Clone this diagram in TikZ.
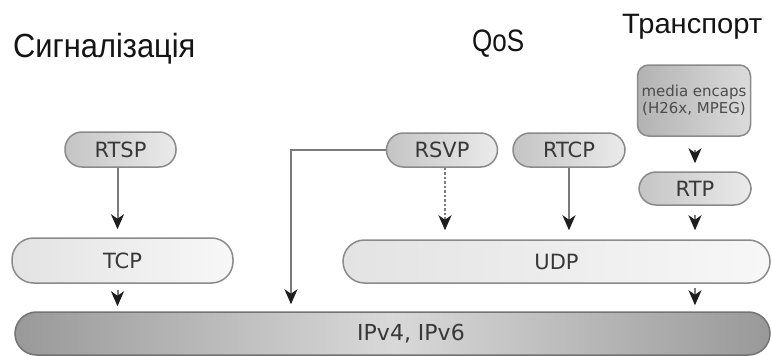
\documentclass[tikz,border=0pt]{standalone}
\usepackage{fontspec}
\newfontfamily\boxfont{DejaVu Sans}
\newfontfamily\titlefont{Liberation Sans}
\usetikzlibrary{arrows.meta}
\definecolor{linegray}{HTML}{7A7A7A}
\definecolor{bordergray}{HTML}{8A8A8A}
\definecolor{txtgray}{HTML}{383838}
\definecolor{headgray}{HTML}{1E1E1E}
\tikzset{
  pill/.style={draw=bordergray, line width=1.5pt, rounded corners=17pt,
    left color=black!23, right color=black!8, text=txtgray,
    font=\boxfont\fontsize{21}{24}\selectfont, inner sep=0pt},
  widepill/.style={draw=bordergray, line width=1.5pt, rounded corners=21.5pt,
    left color=black!11, right color=black!3, text=txtgray,
    font=\boxfont\fontsize{21}{24}\selectfont, inner sep=0pt},
  mediabox/.style={draw=bordergray, line width=1.5pt, rounded corners=11pt,
    left color=black!30, right color=black!14, text=black!70,
    font=\boxfont\fontsize{15}{17}\selectfont, align=center, inner sep=0pt},
  ipbar/.style={draw=black!55, line width=1.5pt, rounded corners=21.5pt,
    left color=black!40, right color=black!40, middle color=black!15,
    inner sep=0pt},
  conn/.style={draw=linegray, line width=2pt,
    -{Stealth[length=15pt,width=13pt,inset=4.5pt,fill=headgray,color=headgray]}},
  headonly/.style={draw=linegray, line width=2pt,
    -{Stealth[length=15pt,width=13pt,inset=4.5pt,fill=headgray,color=headgray]}},
  titletext/.style={anchor=base west, inner sep=0pt, text=black!92},
}
\begin{document}
\begin{tikzpicture}[x=1pt,y=1pt]
\useasboundingbox (0,0) rectangle (772,-356);
% titles
\node[titletext] (sig) at (13,-57) {\titlefont\fontsize{33.5}{36}\selectfont\scalebox{0.92}[1]{Сигналізація}};
\node[titletext] (qos) at (472,-51) {\titlefont\fontsize{31}{34}\selectfont\scalebox{0.84}[1]{QoS}};
\node[titletext] (tr) at (622,-33) {\titlefont\fontsize{28}{30}\selectfont\scalebox{1.04}[1]{Транспорт}};
% boxes
\node[pill, minimum width=111pt, minimum height=35pt] (rtsp) at (120.5,-149.5) {RTSP};
\node[pill, minimum width=111pt, minimum height=34pt] (rsvp) at (442,-150) {RSVP};
\node[pill, minimum width=112pt, minimum height=34pt] (rtcp) at (569,-150) {RTCP};
\node[mediabox, minimum width=113pt, minimum height=71pt] (media) at (694,-100.5) {media encaps\\(H26x, MPEG)};
\node[pill, minimum width=112pt, minimum height=33pt] (rtp) at (695,-188.5) {RTP};
\node[widepill, minimum width=221pt, minimum height=45pt] (tcp) at (122.5,-260.5) {TCP};
\node[widepill, minimum width=427pt, minimum height=43pt] (udp) at (556.5,-261.5) {UDP};
\node[ipbar, minimum width=755pt, minimum height=43pt] (ip) at (392.5,-333.5) {};
\node[text=txtgray, font=\boxfont\fontsize{22}{24}\selectfont, inner sep=0pt] (iptext) at (411,-334) {IPv4, IPv6};
% connectors
\draw[conn, shorten >=8pt] ([xshift=-3pt]rtsp.south) -- ([xshift=-3pt]rtsp.south |- tcp.north);
\draw[headonly, shorten <=6pt, shorten >=5pt] ([xshift=-5pt]tcp.south) -- ([xshift=-5pt]tcp.south |- ip.north);
\coordinate (turn) at (291,-150);
\draw[conn, shorten >=7pt] (rsvp.west) -- (turn) -- (turn |- ip.north);
\draw[conn, dash pattern=on 2.5pt off 2pt, shorten >=9pt] ([xshift=3pt]rsvp.south) -- ([xshift=3pt]rsvp.south |- udp.north);
\draw[conn, shorten >=9pt] (rtcp.south) -- (rtcp.south |- udp.north);
\draw[headonly, shorten <=13pt, shorten >=8pt] ([xshift=1pt]media.south) -- ([xshift=1pt]media.south |- rtp.north);
\draw[headonly, shorten <=9pt, shorten >=9pt] (rtp.south) -- (rtp.south |- udp.north);
\draw[headonly, shorten <=4pt, shorten >=6pt] ([xshift=138.5pt]udp.south) -- ([xshift=138.5pt]udp.south |- ip.north);
\end{tikzpicture}
\end{document}
